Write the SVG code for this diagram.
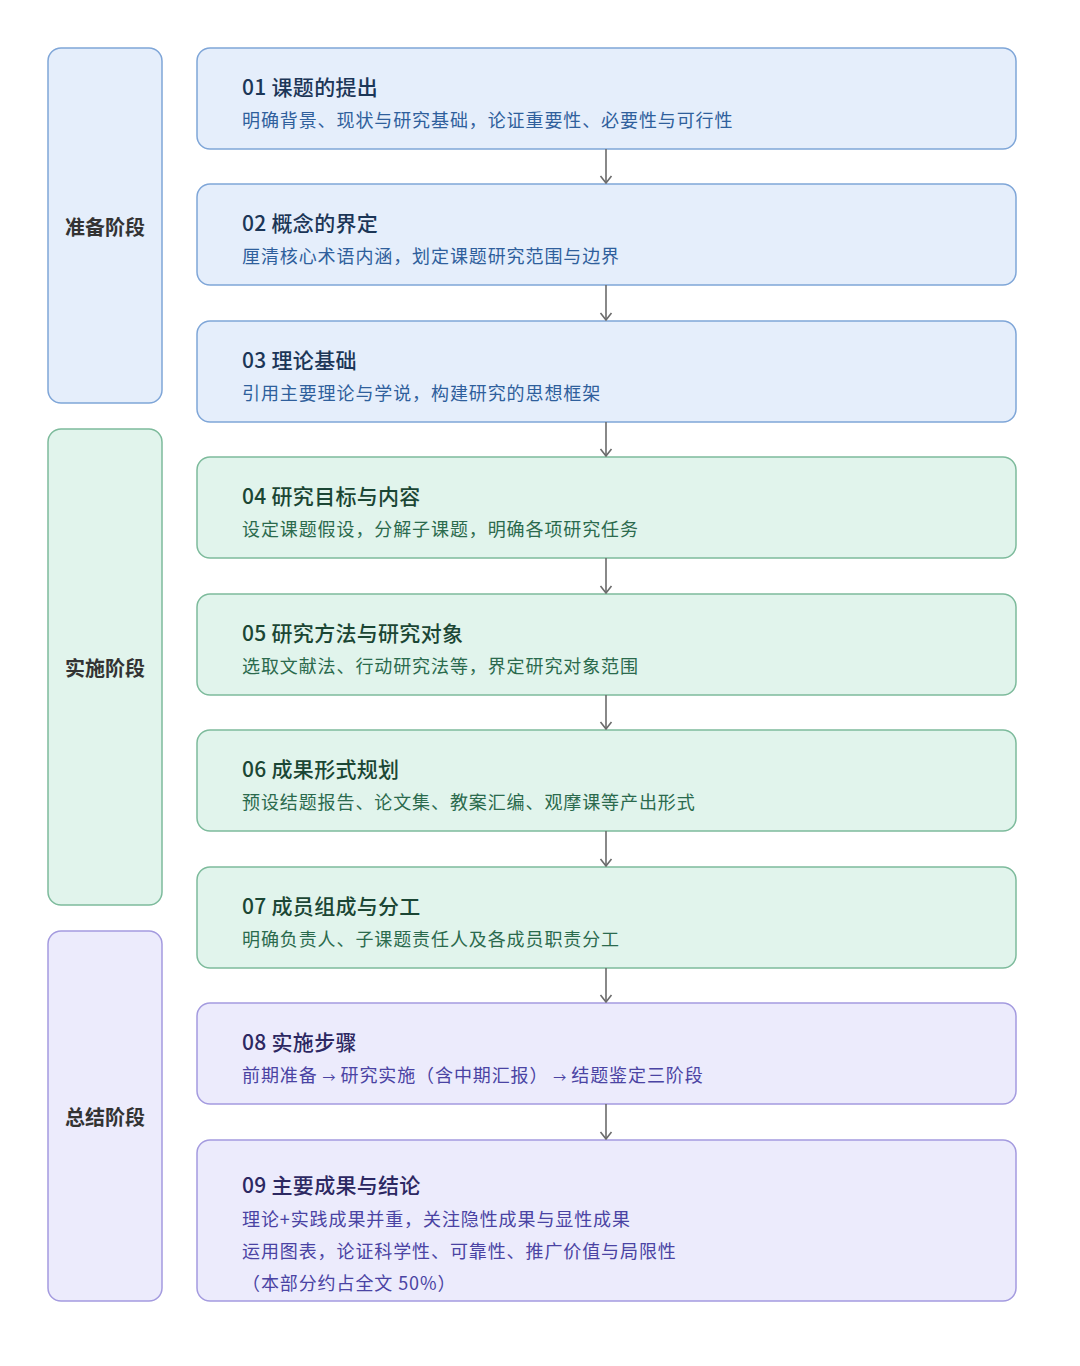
<svg xmlns="http://www.w3.org/2000/svg" width="1080" height="1366" viewBox="0 0 1080 1366">
<style>
text{font-family:"Noto Sans CJK SC","Noto Sans",sans-serif}
.phase{font-size:20px;font-weight:700;fill:#333;text-anchor:middle;dominant-baseline:central}
.t{font-size:21px;font-weight:500;letter-spacing:0.3px}
.s{font-size:18px;letter-spacing:0.9px}
.ar{font-size:13px;letter-spacing:0}
.b rect{fill:#e5eefb;stroke:#7fa6d8;stroke-width:1.5}
.g rect{fill:#e1f4ec;stroke:#7dbb9c;stroke-width:1.5}
.p rect{fill:#ecebfc;stroke:#a49bdf;stroke-width:1.5}
.b .t{fill:#1c3657}.b .s{fill:#2f5f9c}
.g .t{fill:#1b4634}.g .s{fill:#2b6a4d}
.p .t{fill:#2c2862}.p .s{fill:#4a43a3}
.conn line{stroke:#6b6b6b;stroke-width:1.6}
</style>
<defs>
<marker id="ah" viewBox="0 0 10 14" refX="9" refY="7" markerWidth="10" markerHeight="14" markerUnits="userSpaceOnUse" orient="auto">
<path d="M2 1.5 L9 7 L2 12.5" fill="none" stroke="#6b6b6b" stroke-width="1.6"/>
</marker>
</defs>
<rect width="1080" height="1366" fill="#fff"/>
<g id="phase-prep" class="b"><rect x="48" y="48" width="114" height="355" rx="13"/><text class="phase" x="105" y="226">准备阶段</text></g>
<g id="phase-impl" class="g"><rect x="48" y="429" width="114" height="476" rx="13"/><text class="phase" x="105" y="667">实施阶段</text></g>
<g id="phase-sum" class="p"><rect x="48" y="931" width="114" height="370" rx="13"/><text class="phase" x="105" y="1116">总结阶段</text></g>

<g id="step01" class="b"><rect x="197" y="48" width="819" height="101" rx="13"/><text class="t" x="242" y="95">01 课题的提出</text><text class="s" x="242" y="127">明确背景、现状与研究基础，论证重要性、必要性与可行性</text></g>
<g id="step02" class="b"><rect x="197" y="184" width="819" height="101" rx="13"/><text class="t" x="242" y="231">02 概念的界定</text><text class="s" x="242" y="263">厘清核心术语内涵，划定课题研究范围与边界</text></g>
<g id="step03" class="b"><rect x="197" y="321" width="819" height="101" rx="13"/><text class="t" x="242" y="368">03 理论基础</text><text class="s" x="242" y="400">引用主要理论与学说，构建研究的思想框架</text></g>
<g id="step04" class="g"><rect x="197" y="457" width="819" height="101" rx="13"/><text class="t" x="242" y="504">04 研究目标与内容</text><text class="s" x="242" y="536">设定课题假设，分解子课题，明确各项研究任务</text></g>
<g id="step05" class="g"><rect x="197" y="594" width="819" height="101" rx="13"/><text class="t" x="242" y="641">05 研究方法与研究对象</text><text class="s" x="242" y="673">选取文献法、行动研究法等，界定研究对象范围</text></g>
<g id="step06" class="g"><rect x="197" y="730" width="819" height="101" rx="13"/><text class="t" x="242" y="777">06 成果形式规划</text><text class="s" x="242" y="809">预设结题报告、论文集、教案汇编、观摩课等产出形式</text></g>
<g id="step07" class="g"><rect x="197" y="867" width="819" height="101" rx="13"/><text class="t" x="242" y="914">07 成员组成与分工</text><text class="s" x="242" y="946">明确负责人、子课题责任人及各成员职责分工</text></g>
<g id="step08" class="p"><rect x="197" y="1003" width="819" height="101" rx="13"/><text class="t" x="242" y="1050">08 实施步骤</text><text class="s" x="242" y="1082">前期准备 <tspan class="ar">→</tspan> 研究实施（含中期汇报） <tspan class="ar">→</tspan> 结题鉴定三阶段</text></g>
<g id="step09" class="p"><rect x="197" y="1140" width="819" height="161" rx="13"/><text class="t" x="242" y="1193">09 主要成果与结论</text><text class="s" x="242" y="1226">理论+实践成果并重，关注隐性成果与显性成果</text><text class="s" x="242" y="1258">运用图表，论证科学性、可靠性、推广价值与局限性</text><text class="s" x="242" y="1290">（本部分约占全文 50%）</text></g>

<g id="connectors" class="conn">
<line x1="606" y1="149" x2="606" y2="183" marker-end="url(#ah)"/>
<line x1="606" y1="285" x2="606" y2="320" marker-end="url(#ah)"/>
<line x1="606" y1="422" x2="606" y2="456" marker-end="url(#ah)"/>
<line x1="606" y1="558" x2="606" y2="593" marker-end="url(#ah)"/>
<line x1="606" y1="695" x2="606" y2="729" marker-end="url(#ah)"/>
<line x1="606" y1="831" x2="606" y2="866" marker-end="url(#ah)"/>
<line x1="606" y1="968" x2="606" y2="1002" marker-end="url(#ah)"/>
<line x1="606" y1="1104" x2="606" y2="1139" marker-end="url(#ah)"/>
</g>
</svg>
